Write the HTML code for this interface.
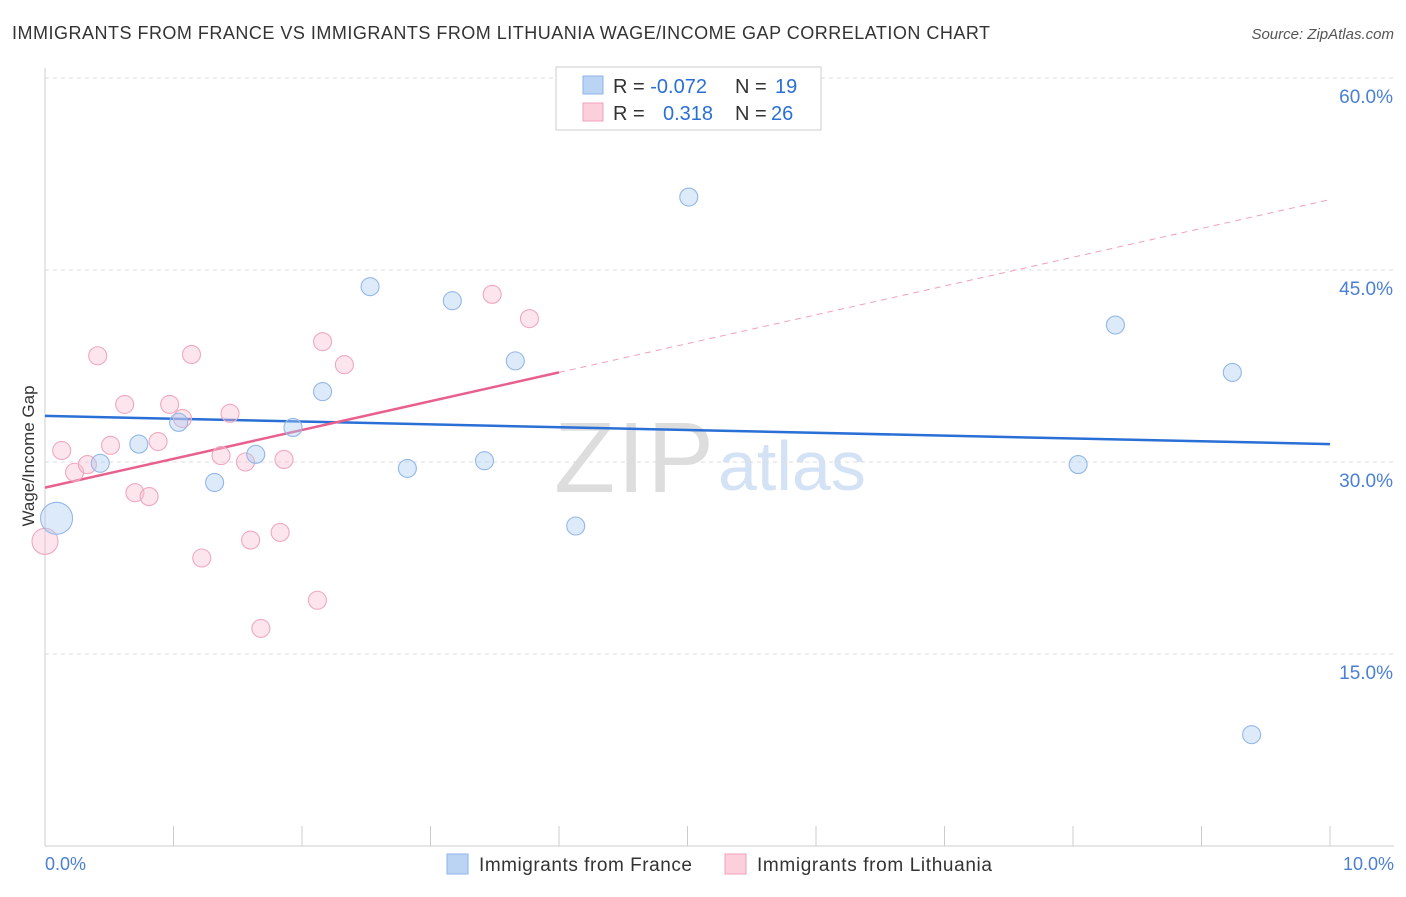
<!DOCTYPE html>
<html><head><meta charset="utf-8">
<style>
body{margin:0;background:#fff;font-family:"Liberation Sans",sans-serif;}
svg text{font-family:"Liberation Sans",sans-serif;}
</style></head>
<body>
<svg id="chart" width="1406" height="892" xmlns="http://www.w3.org/2000/svg">
<text x="12" y="39" font-size="18" fill="#333" textLength="978">IMMIGRANTS FROM FRANCE VS IMMIGRANTS FROM LITHUANIA WAGE/INCOME GAP CORRELATION CHART</text>
<text x="1394" y="39" font-size="15" fill="#555" text-anchor="end" font-style="italic">Source: ZipAtlas.com</text>
<text x="554" y="492" font-size="100" fill="#ddd" textLength="160" font-family="Liberation Serif">ZIP</text>
<text x="718" y="490" font-size="70" fill="#d4e2f6">atlas</text>
<g id="grid"></g>
<g id="axes"></g>
<g id="lines"></g>
<g id="points"></g>
<text transform="translate(34,456) rotate(-90)" font-size="17" fill="#333" text-anchor="middle">Wage/Income Gap</text>
<text x="45" y="870" font-size="18" fill="#4a7fd4">0.0%</text>
<text x="1394" y="870" font-size="18" fill="#4a7fd4" text-anchor="end">10.0%</text>
<g>
<rect x="556" y="67" width="265" height="63" fill="#fff" stroke="#ccc"/>
<rect x="583" y="76" width="20" height="18" fill="#bcd4f4" stroke="#8db4e8"/>
<rect x="583" y="103" width="20" height="18" fill="#fbd0dc" stroke="#f0a0b8"/>
<text x="613" y="93" font-size="20" fill="#333">R = <tspan fill="#2a6fd6">-0.072</tspan></text>
<text x="735" y="93" font-size="20" fill="#333">N = <tspan fill="#2a6fd6" x="775">19</tspan></text>
<text x="613" y="120" font-size="20" fill="#333">R = <tspan fill="#2a6fd6" x="663">0.318</tspan></text>
<text x="735" y="120" font-size="20" fill="#333">N = <tspan fill="#2a6fd6" x="771">26</tspan></text>
</g>
<g>
<rect x="447" y="854" width="21" height="20" fill="#bcd4f4" stroke="#8db4e8"/>
<text x="479" y="871" font-size="19" fill="#333" textLength="213">Immigrants from France</text>
</g>
<g>
<rect x="725" y="854" width="21" height="20" fill="#fbd0dc" stroke="#f0a0b8"/>
<text x="757" y="871" font-size="19" fill="#333" textLength="235">Immigrants from Lithuania</text>
</g>
</svg>
<script>
const yTicks=[15,30,45,60];
const xTicks=[0,1,2,3,4,5,6,7,8,9,10];
const franceX=[0.09,0.43,0.73,1.04,1.32,1.64,1.93,2.16,2.53,2.82,3.17,3.42,3.66,4.13,5.01,8.04,8.33,9.24,9.39];
const franceY=[25.6,29.9,31.4,33.1,28.4,30.6,32.7,35.5,43.7,29.5,42.6,30.1,37.9,25.0,50.7,29.8,40.7,37.0,8.7];
const franceR=[16,9,9,9,9,9,9,9,9,9,9,9,9,9,9,9,9,9,9];
const lithX=[0.0,0.13,0.23,0.33,0.41,0.51,0.62,0.70,0.81,0.88,0.97,1.07,1.14,1.22,1.37,1.44,1.56,1.60,1.68,1.83,1.86,2.12,2.16,2.33,3.48,3.77];
const lithY=[23.8,30.9,29.2,29.8,38.3,31.3,34.5,27.6,27.3,31.6,34.5,33.4,38.4,22.5,30.5,33.8,30.0,23.9,17.0,24.5,30.2,19.2,39.4,37.6,43.1,41.2];
const lithR=[13,9,9,9,9,9,9,9,9,9,9,9,9,9,9,9,9,9,9,9,9,9,9,9,9,9];
const franceTrend=[33.6,31.4];
const lithTrend=[28.0,50.5];
const lithSolidEnd=4.0;
const NS="http://www.w3.org/2000/svg";
const X=v=>45+v/10*1285, Y=v=>846-v*12.8;
function mk(t,a,p){const e=document.createElementNS(NS,t);for(const k in a)e.setAttribute(k,a[k]);p.appendChild(e);return e;}
const grid=document.getElementById('grid'),axes=document.getElementById('axes'),lines=document.getElementById('lines'),pts=document.getElementById('points');
yTicks.forEach(t=>{
 const l=mk('line',{x1:45,x2:1394,y1:Y(t),y2:Y(t),stroke:'#ddd','stroke-dasharray':'4,4'},grid);
 
 
 const tx=mk('text',{x:1393,y:Y(t)+25,'font-size':19,fill:'#4a7fd4','text-anchor':'end'},axes);
 tx.textContent=t.toFixed(1)+'%';
 
 
});
const ax=mk('line',{x1:45,x2:1394,y1:846,y2:846,stroke:'#ccc'},axes);


const ay=mk('line',{x1:45,x2:45,y1:68,y2:846,stroke:'#ccc'},axes);


xTicks.forEach(t=>{
 const l=mk('line',{x1:X(t),x2:X(t),y1:826,y2:846,stroke:'#ccc'},axes);
 
 
});
const ty=x=>lithTrend[0]+(lithTrend[1]-lithTrend[0])*x/10;
const fl=mk('line',{x1:X(0),y1:Y(franceTrend[0]),x2:X(10),y2:Y(franceTrend[1]),stroke:'#2a6fd6','stroke-width':2.5},lines);


const ls=mk('line',{x1:X(0),y1:Y(ty(0)),x2:X(lithSolidEnd),y2:Y(ty(lithSolidEnd)),stroke:'#e8608e','stroke-width':2.5},lines);


const ld=mk('line',{x1:X(lithSolidEnd),y1:Y(ty(lithSolidEnd)),x2:X(10),y2:Y(ty(10)),stroke:'#f0a0b8','stroke-width':1,'stroke-dasharray':'6,5'},lines);


lithX.forEach((x,i)=>{
 const c=mk('circle',{cx:X(x),cy:Y(lithY[i]),r:lithR[i],fill:'rgba(248,190,208,0.4)',stroke:'#f0a8bd','stroke-width':1.1},pts);
 
 
});
franceX.forEach((x,i)=>{
 const c=mk('circle',{cx:X(x),cy:Y(franceY[i]),r:franceR[i],fill:'rgba(170,202,242,0.4)',stroke:'#92b7e8','stroke-width':1.1},pts);
 
 
});
</script>
</body></html>
